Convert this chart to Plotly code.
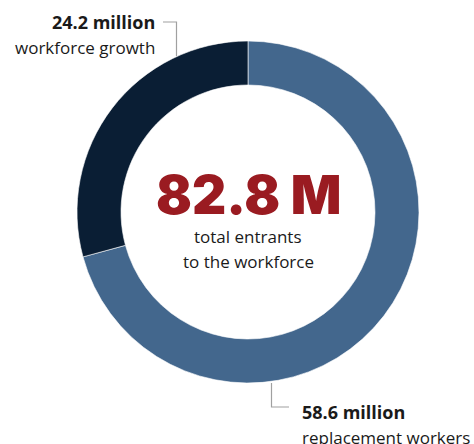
import plotly.graph_objects as go

# Workforce entrants, millions
segments = ["workforce growth", "replacement workers"]
values_m = [24.2, 58.6]
colors = ["#0a1e34", "#43678d"]
total_m = round(sum(values_m), 1)

W, H = 474, 444
cx, cy, r_out, r_in = 248, 212, 171, 127


def px(x):
    return x / W


def py(y):
    return 1 - y / H


# Drawn clockwise from 12 o'clock: replacement first, growth closes the ring
order = [1, 0]
fig = go.Figure(
    go.Pie(
        labels=[segments[i] for i in order],
        values=[values_m[i] for i in order],
        hole=r_in / r_out,
        sort=False,
        direction="clockwise",
        rotation=0,
        marker=dict(colors=[colors[i] for i in order], line=dict(color="#ffffff", width=0.6)),
        textinfo="none",
        hoverinfo="label+value",
        showlegend=False,
        domain=dict(x=[px(cx - r_out), px(cx + r_out)], y=[py(cy + r_out), py(cy - r_out)]),
    )
)

label_font = "Open Sans, Noto Sans, sans-serif"
ink = "#1a1a1a"
annos = [
    # center total
    dict(x=px(cx), y=py(194.5), text=f"{total_m:.1f} M", xanchor="center", yanchor="middle",
         font=dict(family="Inter, Roboto, sans-serif", size=53, color="#9a1b21", weight=900)),
    dict(x=px(cx), y=py(236.5), text="total entrants", xanchor="center", yanchor="middle",
         font=dict(family=label_font, size=17, color=ink)),
    dict(x=px(cx), y=py(261), text="to the workforce", xanchor="center", yanchor="middle",
         font=dict(family=label_font, size=17, color=ink)),
    # slice labels
    dict(x=px(157), y=py(22), text=f"{values_m[0]:.1f} million", xanchor="right", yanchor="middle",
         font=dict(family=label_font, size=18, color=ink, weight=700)),
    dict(x=px(157), y=py(47), text=segments[0], xanchor="right", yanchor="middle",
         font=dict(family=label_font, size=17, color=ink)),
    dict(x=px(300), y=py(412), text=f"{values_m[1]:.1f} million", xanchor="left", yanchor="middle",
         font=dict(family=label_font, size=18, color=ink, weight=700)),
    dict(x=px(300), y=py(437), text=segments[1], xanchor="left", yanchor="middle",
         font=dict(family=label_font, size=17, color=ink)),
]
for a in annos:
    a.update(xref="paper", yref="paper", showarrow=False)

line_style = dict(color="#a0a0a0", width=1.2)
shapes = [
    dict(type="path", path=f"M {px(163)},{py(22)} L {px(176.5)},{py(22)} L {px(176.5)},{py(56)}"),
    dict(type="path", path=f"M {px(271.5)},{py(383)} L {px(271.5)},{py(407)} L {px(289)},{py(407)}"),
]
for s in shapes:
    s.update(xref="paper", yref="paper", line=line_style)

fig.update_layout(
    width=W,
    height=H,
    margin=dict(l=0, r=0, t=0, b=0),
    paper_bgcolor="white",
    plot_bgcolor="white",
    annotations=annos,
    shapes=shapes,
)

fig.write_html("out.html")
